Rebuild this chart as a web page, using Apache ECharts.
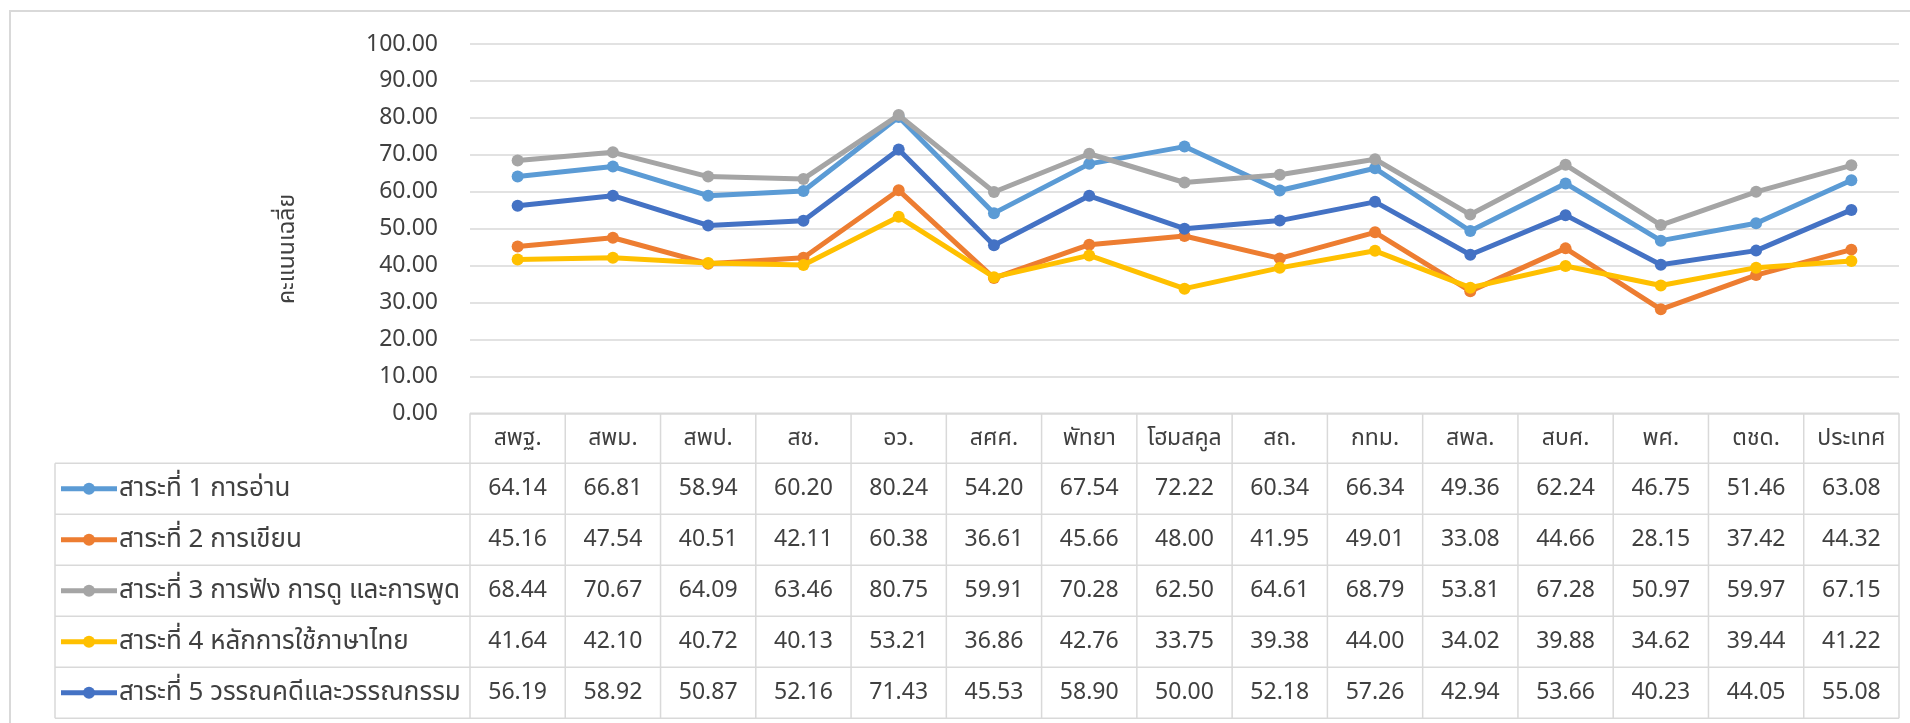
<!DOCTYPE html>
<html>
<head>
<meta charset="utf-8">
<script src="https://cdn.jsdelivr.net/npm/echarts@6/dist/echarts.min.js"></script>
<style>
html,body{margin:0;padding:0;background:#fff;}
#chart{width:1910px;height:723px;}
</style>
</head>
<body>
<div id="chart"></div>
<script>
const categories = ['สพฐ.','สพม.','สพป.','สช.','อว.','สศศ.','พัทยา','โฮมสคูล','สถ.','กทม.','สพล.','สบศ.','พศ.','ตชด.','ประเทศ'];
const seriesNames = ['สาระที่ 1 การอ่าน','สาระที่ 2 การเขียน','สาระที่ 3 การฟัง การดู และการพูด','สาระที่ 4 หลักการใช้ภาษาไทย','สาระที่ 5 วรรณคดีและวรรณกรรม'];
const s1 = [64.14,66.81,58.94,60.20,80.24,54.20,67.54,72.22,60.34,66.34,49.36,62.24,46.75,51.46,63.08];
const s2 = [45.16,47.54,40.51,42.11,60.38,36.61,45.66,48.00,41.95,49.01,33.08,44.66,28.15,37.42,44.32];
const s3 = [68.44,70.67,64.09,63.46,80.75,59.91,70.28,62.50,64.61,68.79,53.81,67.28,50.97,59.97,67.15];
const s4 = [41.64,42.10,40.72,40.13,53.21,36.86,42.76,33.75,39.38,44.00,34.02,39.88,34.62,39.44,41.22];
const s5 = [56.19,58.92,50.87,52.16,71.43,45.53,58.90,50.00,52.18,57.26,42.94,53.66,40.23,44.05,55.08];
const yTicks = [0,10,20,30,40,50,60,70,80,90,100];
const yTitle = 'คะแนนเฉลี่ย';

const colors = ['#5B9BD5','#ED7D31','#A5A5A5','#FFC000','#4472C4'];
const seriesData = [s1,s2,s3,s4,s5];
const FONT = '"Noto Sans", "Noto Sans Thai", Tahoma, sans-serif';
const TXT = '#404040';
const GRID_C = '#d9d9d9';

const chart = echarts.init(document.getElementById('chart'), null, {renderer:'canvas'});
const option = {
  animation:false,
  backgroundColor:'#fff',
  textStyle:{fontFamily:FONT},
  grid:{left:470, right:11, top:44, bottom:309.7, containLabel:false},
  xAxis:{
    type:'category', data:categories, boundaryGap:true,
    axisLine:{show:false}, axisTick:{show:false}, axisLabel:{show:false}, splitLine:{show:false}
  },
  yAxis:{
    type:'value', min:yTicks[0], max:yTicks[yTicks.length-1], interval:10,
    axisLine:{show:false}, axisTick:{show:false},
    axisLabel:{fontSize:23, color:TXT, margin:32, fontFamily:FONT, formatter:v=>v.toFixed(2)},
    splitLine:{lineStyle:{color:GRID_C, width:1.5}}
  },
  series: seriesData.map((d,i)=>({
    name:seriesNames[i], type:'line', data:d, color:colors[i],
    symbol:'circle', symbolSize:12, showSymbol:true,
    lineStyle:{width:5, color:colors[i]}, itemStyle:{color:colors[i]}, z:2+i
  }))
};
chart.setOption(option);

// Build data table from axis geometry
const g = [];
const y0 = chart.convertToPixel({yAxisIndex:0}, 0);
const xc = categories.map((c,i)=>chart.convertToPixel({xAxisIndex:0}, i));
const band = xc.length>1 ? (xc[1]-xc[0]) : 95;
const leftEdge = xc[0]-band/2, rightEdge = xc[xc.length-1]+band/2;
const headerH = 50, rowH = 51, legendLeft = 55;
const rowsTop = y0 + headerH;
const bottom = rowsTop + rowH*seriesNames.length;
const ls = {stroke:GRID_C, lineWidth:1.5};
g.push({type:'line', shape:{x1:leftEdge,y1:y0,x2:rightEdge,y2:y0}, style:ls});
for(let r=0;r<=seriesNames.length;r++){
  const y = rowsTop + rowH*r;
  g.push({type:'line', shape:{x1:legendLeft,y1:y,x2:rightEdge,y2:y}, style:ls});
}
g.push({type:'line', shape:{x1:legendLeft,y1:rowsTop,x2:legendLeft,y2:bottom}, style:ls});
for(let i=0;i<=categories.length;i++){
  const x = leftEdge + band*i;
  g.push({type:'line', shape:{x1:x,y1:y0,x2:x,y2:bottom}, style:ls});
}
categories.forEach((c,i)=>{
  g.push({type:'text', x:xc[i], y:y0+headerH/2, style:{text:c, fontSize:23, fontFamily:FONT, fill:TXT, align:'center', verticalAlign:'middle'}});
});
seriesNames.forEach((n,r)=>{
  const cy = rowsTop + rowH*r + rowH/2;
  g.push({type:'line', shape:{x1:61,y1:cy,x2:117,y2:cy}, style:{stroke:colors[r], lineWidth:5}});
  g.push({type:'circle', shape:{cx:89,cy:cy,r:6}, style:{fill:colors[r]}});
  g.push({type:'text', x:119, y:cy, style:{text:n, fontSize:26, fontFamily:FONT, fill:TXT, align:'left', verticalAlign:'middle'}});
  seriesData[r].forEach((v,i)=>{
    g.push({type:'text', x:xc[i], y:cy, style:{text:v.toFixed(2), fontSize:23, fontFamily:FONT, fill:TXT, align:'center', verticalAlign:'middle'}});
  });
});
g.push({type:'text', x:287, y:249, rotation:Math.PI/2, style:{text:yTitle, fontSize:23, fontFamily:FONT, fill:TXT, align:'center', verticalAlign:'middle'}});
g.push({type:'rect', shape:{x:10,y:11,width:1920,height:740}, style:{fill:'none', stroke:GRID_C, lineWidth:2}, silent:true});
chart.setOption({graphic:g});
</script>
</body>
</html>
